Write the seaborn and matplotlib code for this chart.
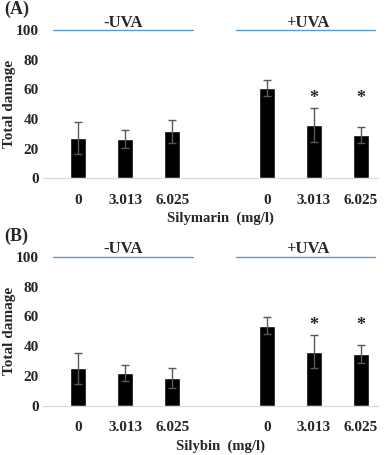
import numpy as np
import pandas as pd
import matplotlib
matplotlib.use('Agg')
import matplotlib.pyplot as plt
import seaborn as sns

# concentrations (mg/l) for each group
conc = ['0', '3.013', '6.025']
groups = ['-UVA', '+UVA']

# panel A: silymarin
sily_mean = [27.3, 26.5, 31.7, 61.0, 36.2, 29.3]
sily_err = [10.5, 6.0, 7.5, 5.5, 11.5, 5.5]
# panel B: silybin
silb_mean = [25.1, 22.1, 18.6, 53.8, 36.3, 34.7]
silb_err = [10.5, 5.5, 7.0, 6.0, 11.0, 6.0]

star_idx = [4, 5]   # bars marked significant
star_y = 54

sns.set_style('white')
plt.rcParams['font.family'] = ['Liberation Serif', 'DejaVu Serif']
plt.rcParams['font.weight'] = 'bold'

keys = ['-' + c for c in conc] + ['gap'] + ['+' + c for c in conc]
pos = [0, 1, 2, 4, 5, 6]

fig = plt.figure(figsize=(3.87, 4.55), dpi=100)
axA = fig.add_axes([0.111, 0.6077, 0.866, 0.3263])
axB = fig.add_axes([0.111, 0.1084, 0.866, 0.3274])

panels = [(axA, sily_mean, sily_err, 'Silymarin  (mg/l)', '(A)'),
          (axB, silb_mean, silb_err, 'Silybin  (mg/l)', '(B)')]

for ax, means, errs, xlab, tag in panels:
    data = pd.DataFrame({'key': [k for k in keys if k != 'gap'], 'val': means})
    sns.barplot(data=data, x='key', y='val', order=keys, color='black',
                width=0.34, errorbar=None, ax=ax, saturation=1)
    ax.errorbar(pos, means, yerr=errs, fmt='none', ecolor='#595959',
                elinewidth=1, capsize=3, capthick=1)
    for i in star_idx:
        ax.text(pos[i], star_y, '*', ha='center', va='center', fontsize=13,
                fontweight='bold')
    ax.set_ylim(0, 100)
    ax.set_xlim(-0.74, 6.36)
    ax.set_yticks([0, 20, 40, 60, 80, 100])
    ax.set_xticks(range(7))
    ax.set_xticklabels(conc + [''] + conc)
    ax.tick_params(axis='both', length=0, labelsize=11)
    ax.tick_params(axis='x', pad=11)
    ax.tick_params(axis='y', pad=3)
    for lab in ax.get_xticklabels() + ax.get_yticklabels():
        lab.set_fontweight('bold')
    for s in ['top', 'right', 'left']:
        ax.spines[s].set_visible(False)
    ax.spines['bottom'].set_color('#d9d9d9')
    ax.set_ylabel('Total damage', fontsize=11, fontweight='bold')
    ax.yaxis.set_label_coords(-0.08, 0.5)
    ax.set_xlabel(xlab, fontsize=10.5, fontweight='bold')
    ax.xaxis.set_label_coords(0.53, -0.225)
    # group brackets
    ax.plot([-0.53, 2.44], [100, 100], color='#5b9bd5', lw=1, clip_on=False)
    ax.plot([3.35, 6.29], [100, 100], color='#5b9bd5', lw=1, clip_on=False)
    ax.text(0.95, 105, groups[0], ha='center', va='center', fontsize=12,
            fontweight='bold')
    ax.text(4.87, 105, groups[1], ha='center', va='center', fontsize=12,
            fontweight='bold')
    ax.text(-0.115, 1.14, tag, transform=ax.transAxes,
            ha='left', va='center', fontsize=13, fontweight='bold')

fig.savefig('out.png', dpi=100)
